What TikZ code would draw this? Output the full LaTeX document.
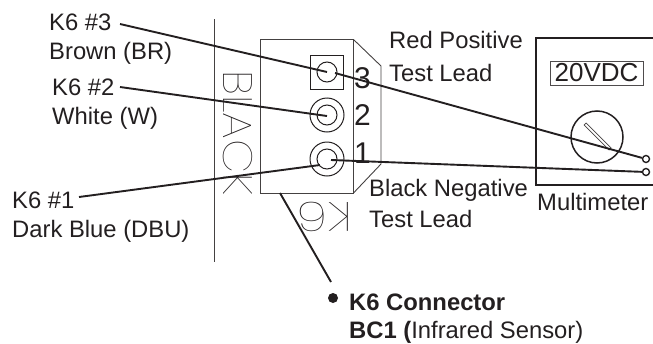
\documentclass[tikz,border=0pt]{standalone}
\usepackage{fontspec}
\setmainfont{Liberation Sans}
\newfontfamily\thinfont{Poppins Thin}
\definecolor{ink}{RGB}{35,31,32}
\tikzset{
 x=1pt,y=-1pt,
 lab/.style={anchor=base west,inner sep=0pt,font=\fontsize{23.8}{26}\selectfont,text=ink},
 digit/.style={anchor=base west,inner sep=0pt,font=\fontsize{30}{30}\selectfont,text=ink},
 wire/.style={draw=ink,line width=1.9pt},
 thinl/.style={draw=ink!85,line width=0.7pt},
 med/.style={draw=ink,line width=1pt},
 thick2/.style={draw=ink,line width=1.9pt},
}
\begin{document}
\begin{tikzpicture}
\useasboundingbox (0,0) rectangle (653,343);
\draw[thinl] (214.5,19) -- (214.5,262);
\draw[thinl,line width=0.9pt] (260.5,39.5) -- (353.5,39.5) -- (353.5,193) -- (260.5,193) -- cycle;
\draw[thinl,line width=0.9pt] (353.5,39.5) -- (381,66) -- (381,164) -- (353.5,193);
\draw[med] (310,55) rectangle (343,89);
\node[circle,draw=ink,line width=1pt,minimum size=20pt,inner sep=0pt] (p3) at (327,72) {};
\node[circle,draw=ink,line width=1pt,minimum size=20pt,inner sep=0pt] (p2) at (327,115) {};
\draw[med] (p2) circle[radius=17];
\node[circle,draw=ink,line width=1pt,minimum size=20pt,inner sep=0pt] (p1) at (327,159) {};
\draw[med] (p1) circle[radius=17];
\node[digit] (n3) at (354,88) {3};
\node[digit] (n2) at (354,125) {2};
\node[digit] (n1) at (354,163) {1};
\node[inner sep=0pt,rotate=-90,xscale=1.08,text=ink,font=\thinfont\fontsize{41}{41}\selectfont] (blk) at (238,133) {BLACK};
\node[inner sep=0pt,rotate=180,xscale=1.2,text=ink,font=\thinfont\fontsize{41}{41}\selectfont] (k6) at (325,217) {K6};
\draw[thick2] (653,38) -- (536,38) -- (536,185) -- (653,185);
\node[draw=ink!80,line width=0.7pt,inner sep=0pt,minimum width=93pt,minimum height=24pt,font=\fontsize{26}{26}\selectfont,text=ink] (disp) at (596.5,73) {20VDC};
\node[circle,draw=ink,line width=1.5pt,minimum size=52pt,inner sep=0pt] (knob) at (597,137) {};
\draw[thinl] (584,125) -- (586,123) -- (611,148) -- (609,150) -- cycle;
\node[circle,draw=ink,line width=1.4pt,fill=white,minimum size=7pt,inner sep=0pt] (t3) at (646,159) {};
\node[circle,draw=ink,line width=1.4pt,fill=white,minimum size=7pt,inner sep=0pt] (t1) at (646,172) {};
\node[lab] (a3) at (49,30) {K6 \#3};
\node[lab] at (49,59) {Brown (BR)};
\node[lab] (a2) at (52,95) {K6 \#2};
\node[lab] at (52,124) {White (W)};
\node[lab] (a1) at (12,208) {K6 \#1};
\node[lab] at (12,237) {Dark Blue (DBU)};
\node[lab] at (389,48) {Red Positive};
\node[lab] at (389,81) {Test Lead};
\node[lab] at (369,196) {Black Negative};
\node[lab] at (369,227) {Test Lead};
\node[lab] at (537,210) {Multimeter};
\node[lab,font=\bfseries\fontsize{23.8}{26}\selectfont] at (349,310) {K6 Connector};
\node[lab] at (349,338) {\textbf{BC1 (}Infrared Sensor)};
\node[circle,fill=ink,minimum size=10pt,inner sep=0pt] (dot) at (333,298) {};
\coordinate (w3s) at (120,24);
\coordinate (w3a) at (327,72);
\coordinate (w3b) at (335,73);
\coordinate (w2s) at (120,87);
\coordinate (w2a) at (327,116);
\coordinate (w1s) at (79,197);
\coordinate (w1a) at (320,165);
\coordinate (w1b) at (331,160);
\coordinate (kl) at (280,193);
\coordinate (kr) at (331,282);
\draw[wire] (w3s) -- (w3a);
\draw[wire] (w3b) -- (t3);
\draw[wire] (w2s) -- (w2a);
\draw[wire] (w1s) -- (w1a);
\draw[wire] (w1b) -- (t1);
\draw[wire] (kl) -- (kr);
\end{tikzpicture}
\end{document}
